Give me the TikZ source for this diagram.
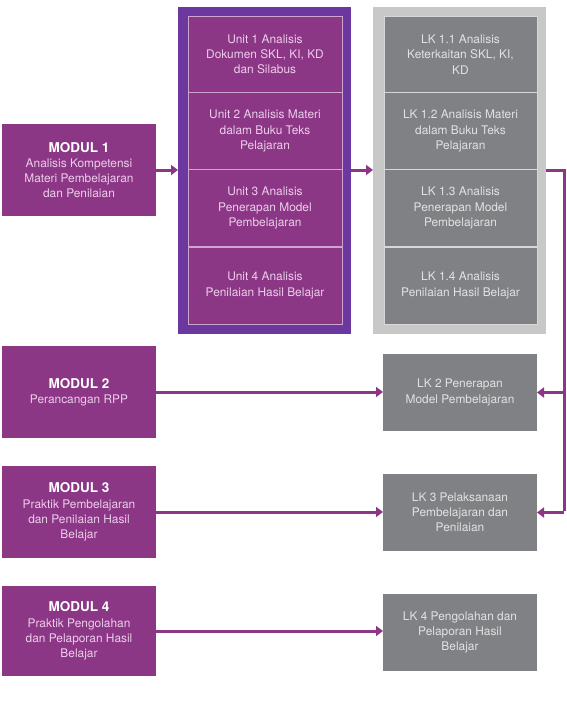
\documentclass[tikz,border=0pt]{standalone}
\usepackage{fontspec}
\setmainfont{TeX Gyre Heros}
\usetikzlibrary{arrows.meta}
\definecolor{modfill}{RGB}{140,54,134}
\definecolor{frameviolet}{RGB}{108,55,158}
\definecolor{celledge}{RGB}{205,165,205}
\definecolor{modtext}{RGB}{236,206,234}
\definecolor{grayframe}{RGB}{200,200,200}
\definecolor{graycell}{RGB}{128,129,132}
\definecolor{grayedge}{RGB}{215,215,215}
\definecolor{graytext}{RGB}{226,226,226}
\definecolor{arrowc}{RGB}{140,54,134}
\newcommand{\modtitle}[1]{{\fontsize{13.5}{15.2}\selectfont\bfseries\color{white}#1}}
\begin{document}
\begin{tikzpicture}[x=1pt,y=-1pt,
  every node/.style={inner sep=0pt,outer sep=0pt,align=center,font=\fontsize{11.9}{15.2}\selectfont},
  modbox/.style={fill=modfill,text=modtext,minimum width=154pt,minimum height=92pt},
  ucell/.style={fill=modfill,draw=celledge,line width=0.7pt,text=modtext,minimum width=154pt,minimum height=77pt},
  lcell/.style={fill=graycell,draw=grayedge,line width=0.7pt,text=graytext,minimum width=153pt,minimum height=77pt},
  lkbox/.style={fill=graycell,text=graytext,minimum width=154pt,minimum height=77pt},
  conn/.style={draw=arrowc,line width=3pt,-{Triangle[length=7pt,width=10pt]}},
  connplain/.style={draw=arrowc,line width=3pt}
]
\useasboundingbox (0,0) rectangle (567,705);
% frames
\node[fill=frameviolet,minimum width=173pt,minimum height=327pt] (uframe) at (264.5,170.5) {};
\node[fill=grayframe,minimum width=173pt,minimum height=327pt] (lframe) at (459.5,170.5) {};
% unit cells
\node[ucell] (u1) at (265,54.5) {Unit 1 Analisis\\Dokumen SKL, KI, KD\\dan Silabus};
\node[ucell] (u2) at (265,131) {Unit 2 Analisis Materi\\dalam Buku Teks\\Pelajaran};
\node[ucell] (u3) at (265,208) {Unit 3 Analisis\\Penerapan Model\\Pembelajaran};
\node[ucell] (u4) at (265,285.5) {Unit 4 Analisis\\Penilaian Hasil Belajar};
% LK cells
\node[lcell] (l1) at (460.5,54.5) {LK 1.1 Analisis\\Keterkaitan SKL, KI,\\KD};
\node[lcell] (l2) at (460.5,131) {LK 1.2 Analisis Materi\\dalam Buku Teks\\Pelajaran};
\node[lcell] (l3) at (460.5,208) {LK 1.3 Analisis\\Penerapan Model\\Pembelajaran};
\node[lcell] (l4) at (460.5,285.5) {LK 1.4 Analisis\\Penilaian Hasil Belajar};
% moduls
\node[modbox] (m1) at (79,170) {\modtitle{MODUL 1}\\Analisis Kompetensi\\Materi Pembelajaran\\dan Penilaian};
\node[modbox] (m2) at (79,392) {\modtitle{MODUL 2}\\Perancangan RPP};
\node[modbox] (m3) at (79,512) {\modtitle{MODUL 3}\\Praktik Pembelajaran\\dan Penilaian Hasil\\Belajar};
\node[modbox,minimum height=90pt] (m4) at (79,631) {\modtitle{MODUL 4}\\Praktik Pengolahan\\dan Pelaporan Hasil\\Belajar};
% LK boxes
\node[lkbox] (k2) at (460,392.5) {LK 2 Penerapan\\Model Pembelajaran};
\node[lkbox] (k3) at (460,512.5) {LK 3 Pelaksanaan\\Pembelajaran dan\\Penilaian};
\node[lkbox] (k4) at (460,632.5) {LK 4 Pengolahan dan\\Pelaporan Hasil\\Belajar};
% connectors
\coordinate (rc) at (564,170);
\coordinate (r2) at (564,392.5);
\coordinate (r3) at (564,512.5);
\draw[conn] (m1.east) -- (m1.east -| uframe.west);
\draw[conn] (uframe.east |- m1.east) -- (lframe.west |- m1.east);
\draw[connplain,line join=miter] (lframe.east |- rc) -- (rc) -- ([yshift=1.5pt]r3);
\draw[conn] (r2) -- (k2.east);
\draw[conn] (r3) -- (k3.east);
\draw[conn] (m2.east) -- (m2.east -| k2.west);
\draw[conn] (m3.east) -- (m3.east -| k3.west);
\draw[conn] (m4.east) -- (m4.east -| k4.west);
\end{tikzpicture}
\end{document}
